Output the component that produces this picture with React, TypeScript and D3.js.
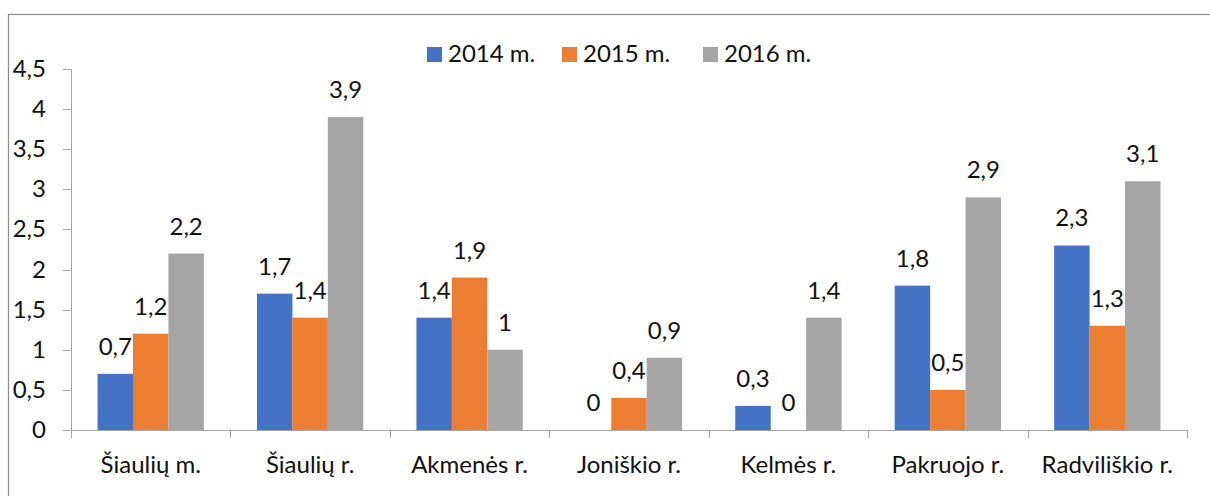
import React from "react";
import * as d3 from "d3";

const categories = ["Šiaulių m.", "Šiaulių r.", "Akmenės r.", "Joniškio r.", "Kelmės r.", "Pakruojo r.", "Radviliškio r."];
const seriesNames = ["2014 m.", "2015 m.", "2016 m."];
const values2014 = [0.7, 1.7, 1.4, 0, 0.3, 1.8, 2.3];
const values2015 = [1.2, 1.4, 1.9, 0.4, 0, 0.5, 1.3];
const values2016 = [2.2, 3.9, 1, 0.9, 1.4, 2.9, 3.1];
const yTicks = [0, 0.5, 1, 1.5, 2, 2.5, 3, 3.5, 4, 4.5];
const colors = ["#4472C4", "#ED7D31", "#A5A5A5"];

const W = 1210;
const H = 496;
const left = 71;
const right = 1187;
const top = 69;
const bottom = 430;
const FONT = "Lato, 'Open Sans', sans-serif";
const FS = 24;

const fmt = (v: number) => String(v).replace(".", ",");

export default function App() {
  const series = [values2014, values2015, values2016];
  const x0 = d3.scaleBand<string>().domain(categories).range([left, right]).paddingInner(0).paddingOuter(0);
  const bw = x0.bandwidth() / 4.5;
  const x1 = d3
    .scaleBand<string>()
    .domain(seriesNames)
    .range([bw * 0.75, bw * 3.75]);
  const y = d3.scaleLinear().domain([0, 4.5]).range([bottom, top]);
  const legendX = [427, 562, 703];

  return (
    <svg
      width={W}
      height={H}
      style={{ position: "absolute", left: 0, top: 0, background: "#fff" }}
      fontFamily={FONT}
    >
      <rect x={8.5} y={14.5} width={W + 10} height={H + 10} fill="#fff" stroke="#8c8c8c" strokeWidth={1.2} />
      {/* legend */}
      {seriesNames.map((s, i) => (
        <g key={s}>
          <rect x={legendX[i]} y={47} width={15} height={15} fill={colors[i]} />
          <text x={legendX[i] + 21} y={62} fontSize={FS} fill="#111">
            {s}
          </text>
        </g>
      ))}
      {/* bars */}
      {categories.map((c, ci) =>
        series.map((vals, si) => {
          const bx = (x0(c) ?? 0) + (x1(seriesNames[si]) ?? 0);
          const v = vals[ci];
          return (
            <g key={c + si}>
              <rect x={bx} y={y(v)} width={x1.bandwidth()} height={y(0) - y(v)} fill={colors[si]} />
              <text
                x={bx + x1.bandwidth() / 2}
                y={y(v) - 19}
                textAnchor="middle"
                fontSize={FS}
                fill="#111"
              >
                {fmt(v)}
              </text>
            </g>
          );
        })
      )}
      {/* y axis */}
      <line x1={left + 0.5} x2={left + 0.5} y1={top} y2={bottom} stroke="#a6a6a6" strokeWidth={1} />
      {yTicks.map((t) => (
        <g key={t}>
          <line x1={left - 8} x2={left} y1={Math.round(y(t)) + 0.5} y2={Math.round(y(t)) + 0.5} stroke="#a6a6a6" />
          <text x={46} y={y(t) + 8} textAnchor="end" fontSize={FS} fill="#111">
            {fmt(t)}
          </text>
        </g>
      ))}
      {/* x axis */}
      <line x1={left} x2={right} y1={bottom + 0.5} y2={bottom + 0.5} stroke="#a6a6a6" />
      {[...categories.map((c) => x0(c) ?? 0), right].map((tx, i) => (
        <line key={i} x1={Math.round(tx) + 0.5} x2={Math.round(tx) + 0.5} y1={bottom} y2={bottom + 8} stroke="#a6a6a6" />
      ))}
      {categories.map((c) => (
        <text
          key={c}
          x={(x0(c) ?? 0) + x0.bandwidth() / 2}
          y={473}
          textAnchor="middle"
          fontSize={FS}
          fill="#111"
        >
          {c}
        </text>
      ))}
    </svg>
  );
}
